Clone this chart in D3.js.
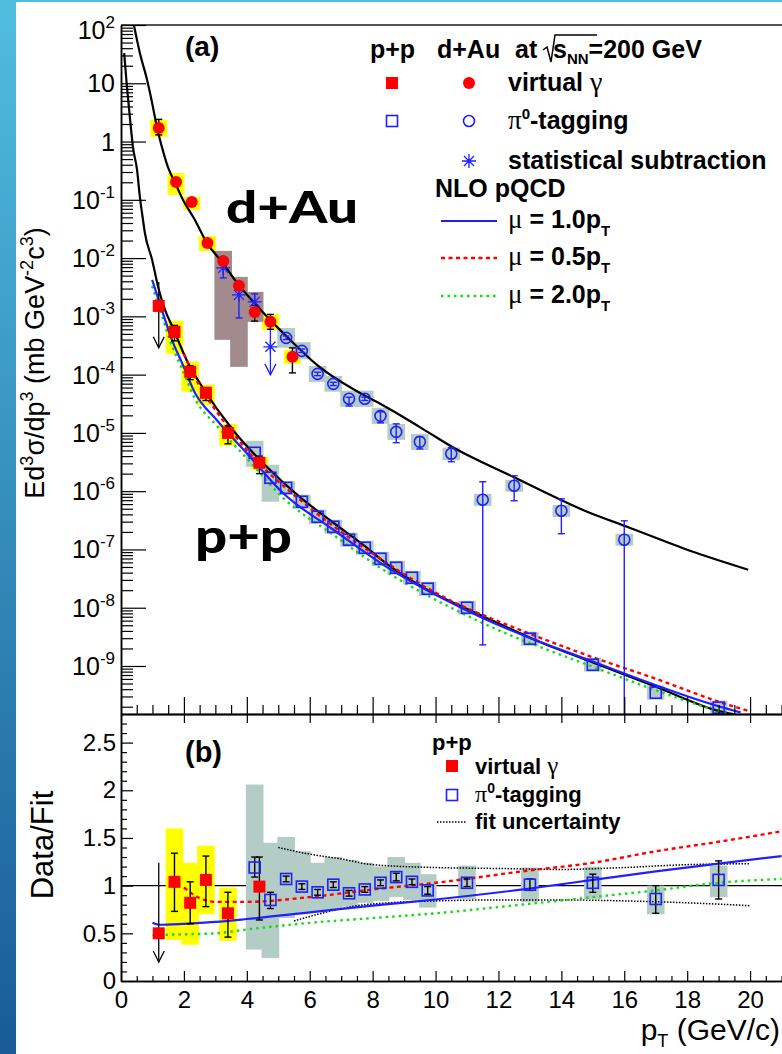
<!DOCTYPE html>
<html>
<head>
<meta charset="utf-8">
<script src="https://cdn.jsdelivr.net/npm/d3@7"></script>
<style>
  html, body { margin: 0; padding: 0; background: #fff; }
  svg { display: block; font-family: "Liberation Sans", Arial, sans-serif; }
</style>
</head>
<body>
<div id="chart"></div>
<script>
'use strict';

// ---------- d+Au, virtual photon (red circles) ----------
const dauVgPt    = [1.2, 1.75, 2.25, 2.75, 3.25, 3.75, 4.25, 4.75, 5.45];
const dauVgVal   = [1.71, 0.203, 0.092, 0.0182, 0.00895, 0.00334, 0.00119, 0.000805, 0.000202];
const dauVgErrLo = [1.3, 0.18, 0.083, 0.0165, 0.0081, 0.0030, 0.00083, 0.0006, 0.000107];
const dauVgErrHi = [2.4, 0.23, 0.10, 0.020, 0.0099, 0.0037, 0.00155, 0.00108, 0.000288];
const dauVgSysLo = [1.2, 0.121, 0.067, 0.0133, 0.0065, 0.00243, 0.00087, 0.00059, 0.000153];
const dauVgSysHi = [2.35, 0.289, 0.112, 0.024, 0.0123, 0.00457, 0.00164, 0.0011, 0.000266];

// ---------- d+Au, pi0 tagging (blue open circles) ----------
const dauPiPt    = [5.25, 5.75, 6.25, 6.75, 7.25, 7.75, 8.25, 8.75, 9.5, 10.5, 11.5, 12.5, 14, 16];
const dauPiVal   = [4.28e-4, 2.56e-4, 1.03e-4, 6.95e-5, 3.85e-5, 3.85e-5, 1.96e-5, 1.04e-5, 7.03e-6, 4.38e-6, 7.12e-7, 1.24e-6, 4.61e-7, 1.47e-7];
const dauPiErrLo = [4.0e-4, 2.4e-4, 9.6e-5, 6.5e-5, 2.9e-5, 3.6e-5, 1.49e-5, 6.8e-6, 5.3e-6, 3.2e-6, 2.3e-9, 6.84e-7, 1.86e-7, 1e-12];
const dauPiErrHi = [4.6e-4, 2.75e-4, 1.1e-4, 7.4e-5, 4.1e-5, 4.1e-5, 2.3e-5, 1.43e-5, 8.6e-6, 5.6e-6, 1.45e-6, 1.84e-6, 7.4e-7, 3.1e-7];
const dauPiSysLo = [2.9e-4, 1.83e-4, 7.5e-5, 5.1e-5, 2.8e-5, 2.8e-5, 1.43e-5, 7.6e-6, 5.1e-6, 3.4e-6, 5.6e-7, 9.8e-7, 3.6e-7, 1.16e-7];
const dauPiSysHi = [6.3e-4, 3.6e-4, 1.41e-4, 9.5e-5, 5.3e-5, 5.3e-5, 2.7e-5, 1.42e-5, 9.6e-6, 5.6e-6, 9.0e-7, 1.57e-6, 5.8e-7, 1.86e-7];

// ---------- d+Au, statistical subtraction (blue asterisks) ----------
const dauSsPt      = [3.25, 3.75, 4.25, 4.75];
const dauSsVal     = [0.00679, 0.00234, 0.00177, 0.0003];
const dauSsErrLo   = [0.00457, 0.00094, 0.00129, null];
const dauSsErrHi   = [0.00828, 0.00285, 0.00243, 0.00059];
const dauSsSysLo   = [0.000395, 0.000136, 0.000805, null];
const dauSsSysHi   = [0.0133, 0.00476, 0.00263, null];
const dauSsLimitTo = [null, null, null, 9.9e-5];

// ---------- p+p, virtual photon (red squares) ----------
const ppVgPt      = [1.2, 1.7, 2.2, 2.7, 3.4, 4.4];
const ppVgVal     = [1.51e-3, 5.42e-4, 1.12e-4, 4.88e-5, 1.0e-5, 3.07e-6];
const ppVgErrLo   = [null, 3.8e-4, 8.2e-5, 3.6e-5, 6.5e-6, 2.0e-6];
const ppVgErrHi   = [3.9e-3, 7.0e-4, 1.42e-4, 6.0e-5, 1.31e-5, 4.0e-6];
const ppVgSysLo   = [null, 2.27e-4, 5.1e-5, 3.04e-5, 6.0e-6, 2.33e-6];
const ppVgSysHi   = [null, 8.4e-4, 1.66e-4, 6.7e-5, 1.43e-5, 3.89e-6];
const ppVgLimitTo = [2.9e-4, null, null, null, null, null];
const ppVgRatio        = [0.50, 1.04, 0.82, 1.06, 0.71, 0.99];
const ppVgRatioErrLo   = [null, 0.73, 0.60, 0.78, 0.46, 0.64];
const ppVgRatioErrHi   = [1.24, 1.34, 1.04, 1.31, 0.93, 1.30];
const ppVgRatioSysLo   = [null, 0.43, 0.38, 0.70, 0.42, 0.77];
const ppVgRatioSysHi   = [null, 1.60, 1.24, 1.42, 0.98, 1.19];
const ppVgRatioLimitTo = [0.2, null, null, null, null, null];

// ---------- p+p, pi0 tagging (blue open squares) ----------
const ppPiPt    = [4.25, 4.75, 5.25, 5.75, 6.25, 6.75, 7.25, 7.75, 8.25, 8.75, 9.25, 9.75, 11, 13, 15, 17, 19];
const ppPiVal   = [4.56e-6, 1.70e-6, 1.14e-6, 6.58e-7, 3.64e-7, 2.45e-7, 1.47e-7, 1.07e-7, 6.92e-8, 4.85e-8, 3.27e-8, 2.12e-8, 1.0e-8, 2.94e-9, 1.05e-9, 3.48e-10, 1.93e-10];
const ppPiSysLo = [2.62e-6, 6.6e-7, 8.6e-7, 5.0e-7, 2.76e-7, 1.86e-7, 1.11e-7, 8.1e-8, 5.2e-8, 3.7e-8, 2.5e-8, 1.6e-8, 7.6e-9, 2.23e-9, 8.0e-10, 2.64e-10, 1.46e-10];
const ppPiSysHi = [7.32e-6, 2.84e-6, 1.5e-6, 8.7e-7, 4.8e-7, 3.23e-7, 1.94e-7, 1.41e-7, 9.1e-8, 6.4e-8, 4.3e-8, 2.8e-8, 1.32e-8, 3.88e-9, 1.39e-9, 4.6e-10, 2.55e-10];
const ppPiRatio      = [1.19, 0.85, 1.07, 0.99, 0.93, 1.01, 0.92, 0.96, 1.03, 1.09, 1.04, 0.95, 1.03, 1.01, 1.03, 0.86, 1.06];
const ppPiRatioErrLo = [1.09, 0.76, 1.04, 0.96, 0.90, 0.98, 0.89, 0.93, 1.00, 1.05, 1.01, 0.91, 0.99, 0.95, 0.93, 0.71, 0.86];
const ppPiRatioErrHi = [1.30, 0.93, 1.10, 1.02, 0.96, 1.04, 0.95, 0.99, 1.06, 1.13, 1.07, 0.99, 1.07, 1.07, 1.12, 1.00, 1.26];
const ppPiRatioSysLo = [0.33, 0.24, 0.66, 0.71, 0.72, 0.75, 0.78, 0.82, 0.84, 0.88, 0.85, 0.77, 0.86, 0.83, 0.86, 0.70, 0.88];
const ppPiRatioSysHi = [2.06, 1.45, 1.51, 1.36, 1.24, 1.30, 1.27, 1.24, 1.20, 1.30, 1.24, 1.12, 1.21, 1.19, 1.20, 1.00, 1.21];

// ---------- fits (black) and NLO pQCD curves ----------
const fitDauPt  = [0.41, 0.6, 0.83, 0.99, 1.14, 1.3, 1.49, 1.72, 1.97, 2.35, 2.73, 3.21, 3.62, 4.74, 5.28, 6.23, 7.82, 8.24, 9.54, 10.52, 12.53, 14.82, 16.09, 18.09, 19.94];
const fitDauVal = [100, 33.1, 11.4, 4.59, 1.78, 0.81, 0.366, 0.195, 0.1, 0.0452, 0.0182, 0.0086, 0.00423, 8.7e-4, 4.45e-4, 1.47e-4, 4.16e-5, 3.16e-5, 1.22e-5, 5.78e-6, 1.70e-6, 4.44e-7, 2.45e-7, 9.5e-8, 4.49e-8];
const fitPpPt   = [0.1, 0.19, 0.29, 0.38, 0.51, 0.6, 0.7, 0.76, 0.99, 1.18, 1.4, 1.65, 2.13, 2.58, 3.57, 4.64, 5.69, 6.74, 7.82, 8.24, 9.76, 11.41, 13.07, 15.0, 17.0, 19.05, 19.7];
const fitPpVal  = [33, 8.6, 2.35, 0.81, 0.326, 0.112, 0.045, 0.027, 0.0093, 0.0032, 0.00129, 6.35e-4, 1.59e-4, 6.2e-5, 1.1e-5, 2.6e-6, 7.9e-7, 2.9e-7, 1.07e-7, 6.9e-8, 2.0e-8, 7.6e-9, 2.94e-9, 1.15e-9, 4.4e-10, 1.66e-10, 1.4e-10];

const nloPt      = [0.99, 1.3, 1.62, 1.94, 2.35, 3.05, 4.1, 5.15, 6.74, 8.24, 11.41, 15.0, 19.05, 19.7];
const nlo10Val   = [4.23e-3, 1.29e-3, 3.95e-4, 1.59e-4, 4.88e-5, 1.65e-5, 3.9e-6, 9.3e-7, 2.2e-7, 5.9e-8, 7.0e-9, 1.19e-9, 2.0e-10, 1.6e-10];
const nlo20Val   = [3.33e-3, 1.02e-3, 3.12e-4, 1.26e-4, 3.85e-5, 1.32e-5, 3.19e-6, 7.7e-7, 1.79e-7, 4.85e-8, 5.75e-9, 9.7e-10, 1.64e-10, 1.3e-10];
const nlo05Pt    = [2.0, 2.5, 3.0, 4.0, 6.0, 8.0, 10, 13, 15, 17, 19, 20];
const nlo05Val   = [2.28e-4, 6.4e-5, 2.49e-5, 5.1e-6, 5.2e-7, 8.5e-8, 1.81e-8, 3.58e-9, 1.41e-9, 6.05e-10, 2.44e-10, 1.66e-10];

// NLO / fit in the ratio panel
const rNlo10Pt  = [1.0, 1.2, 2, 3, 4, 6, 8, 10, 13, 15, 17, 19, 21];
const rNlo10Val = [0.61, 0.59, 0.60, 0.62, 0.65, 0.72, 0.79, 0.855, 0.97, 1.06, 1.15, 1.23, 1.31];
const rNlo05Pt  = [2.0, 2.5, 3.0, 4.0, 6.0, 8.0, 10, 13, 15, 17, 19, 21];
const rNlo05Val = [0.98, 0.87, 0.83, 0.83, 0.88, 0.96, 1.03, 1.16, 1.24, 1.36, 1.46, 1.57];
const rNlo20Pt  = [1.0, 2.0, 3.0, 4, 6, 8, 10, 13, 15, 17, 19, 21];
const rNlo20Val = [0.48, 0.49, 0.50, 0.54, 0.61, 0.66, 0.71, 0.81, 0.88, 0.95, 1.03, 1.07];
const fitUncHiPt  = [5.0, 6.0, 7.0, 8.0, 10, 12, 14, 16, 18, 20];
const fitUncHiVal = [1.40, 1.33, 1.28, 1.22, 1.19, 1.18, 1.17, 1.19, 1.22, 1.23];
const fitUncLoPt  = [5.5, 6.5, 7.5, 8.5, 10, 12, 14, 16, 18, 20];
const fitUncLoVal = [0.63, 0.72, 0.79, 0.82, 0.84, 0.85, 0.85, 0.84, 0.82, 0.79];

// axis ticks
const xMajor = d3.range(0, 23, 2);
const xLabelMax = 20;
const xMinor = d3.range(0, 22.01, 0.5).filter(v => v % 2 !== 0);
const yDecades = d3.range(-9, 3);
const rMajor = [0, 0.5, 1, 1.5, 2, 2.5];
const rMinor = d3.range(0, 28).map(i => i / 10).filter(v => Math.abs(v * 2 - Math.round(v * 2)) > 1e-6);

// ---------- page ----------
const W = 782, H = 1054;
const svg = d3.select("#chart").append("svg").attr("width", W).attr("height", H);
const defs = svg.append("defs");
const grad = defs.append("linearGradient").attr("id", "side")
  .attr("x1", 0).attr("y1", 0).attr("x2", 0).attr("y2", 1);
grad.append("stop").attr("offset", "0%").attr("stop-color", "#50bddf");
grad.append("stop").attr("offset", "100%").attr("stop-color", "#185b96");
svg.append("rect").attr("width", W).attr("height", H).attr("fill", "#fff");
svg.append("rect").attr("width", W).attr("height", 2).attr("fill", "#50bddf");
svg.append("rect").attr("width", 16).attr("height", H).attr("fill", "url(#side)");

const x = d3.scaleLinear().domain([0, 22]).range([121, 813]);
const yTop = d3.scaleLog().domain([1.5e-10, 100]).range([714, 25]);
const yBot = d3.scaleLinear().domain([0, 2.8]).range([981, 714]);

defs.append("clipPath").attr("id", "clipTop").append("rect")
  .attr("x", 121).attr("y", 25).attr("width", W - 121).attr("height", 689);
defs.append("clipPath").attr("id", "clipBot").append("rect")
  .attr("x", 121).attr("y", 714).attr("width", W - 121).attr("height", 267);

const RED = "#ff0000", BLUE = "#2020ff", YEL = "#ffff00", GREY = "#b3ccc5", BROWN = "#a38b8d";

// ---------- helpers ----------
function idx(n, ...arrs) {
  return d3.range(n).filter(i => arrs.every(a => a[i] != null));
}
function boxes(g, xs, lo, hi, yS, hw, fill) {
  g.append("g").selectAll("rect").data(idx(xs.length, lo, hi)).join("rect")
    .attr("x", i => x(xs[i] - hw))
    .attr("width", i => x(xs[i] + hw) - x(xs[i] - hw))
    .attr("y", i => yS(hi[i]))
    .attr("height", i => yS(lo[i]) - yS(hi[i]))
    .attr("fill", fill);
}
function errBars(g, xs, lo, hi, yS, color) {
  const e = g.append("g").attr("stroke", color).attr("stroke-width", 1.4);
  idx(xs.length, lo, hi).forEach(i => {
    const cx = x(xs[i]), y1 = yS(hi[i]), y2 = yS(lo[i]);
    e.append("line").attr("x1", cx).attr("x2", cx).attr("y1", y1).attr("y2", y2);
    e.append("line").attr("x1", cx - 3.5).attr("x2", cx + 3.5).attr("y1", y1).attr("y2", y1);
    e.append("line").attr("x1", cx - 3.5).attr("x2", cx + 3.5).attr("y1", y2).attr("y2", y2);
  });
}
function arrows(g, xs, from, to, yS, color) {
  const a = g.append("g").attr("stroke", color).attr("stroke-width", 1.3).attr("fill", "none");
  idx(xs.length, from, to).forEach(i => {
    const cx = x(xs[i]), y1 = yS(from[i]), y2 = yS(to[i]);
    a.append("line").attr("x1", cx).attr("x2", cx).attr("y1", y1).attr("y2", y2);
    a.append("path").attr("d", `M${cx - 5.5},${y2 - 11}L${cx},${y2}L${cx + 5.5},${y2 - 11}`);
  });
}
function marker(g, shape, cx, cy) {
  if (shape === "disc") g.append("circle").attr("cx", cx).attr("cy", cy).attr("r", 6).attr("fill", RED);
  else if (shape === "fsq") g.append("rect").attr("x", cx - 6).attr("y", cy - 6).attr("width", 12).attr("height", 12).attr("fill", RED);
  else if (shape === "osq") g.append("rect").attr("x", cx - 5.5).attr("y", cy - 5.5).attr("width", 11).attr("height", 11)
    .attr("fill", "none").attr("stroke", BLUE).attr("stroke-width", 1.6);
  else if (shape === "ocirc") g.append("circle").attr("cx", cx).attr("cy", cy).attr("r", 5.5)
    .attr("fill", "none").attr("stroke", BLUE).attr("stroke-width", 1.6);
  else if (shape === "star") {
    const r = 7, d = 5;
    g.append("path").attr("d", `M${cx - r},${cy}H${cx + r}M${cx},${cy - r}V${cy + r}M${cx - d},${cy - d}L${cx + d},${cy + d}M${cx - d},${cy + d}L${cx + d},${cy - d}`)
      .attr("stroke", BLUE).attr("stroke-width", 1.3);
  }
}
function markers(g, xs, vs, yS, shape) {
  const m = g.append("g");
  xs.forEach((p, i) => marker(m, shape, x(p), yS(vs[i])));
}
function curve(g, xs, vs, yS, color, width, dash) {
  const line = d3.line().x(d => x(d[0])).y(d => yS(d[1])).curve(d3.curveMonotoneX);
  g.append("path").datum(d3.zip(xs, vs)).attr("d", line)
    .attr("fill", "none").attr("stroke", color).attr("stroke-width", width)
    .attr("stroke-dasharray", dash || null);
}

// ---------- top panel ----------
const panelTop = svg.append("g").attr("clip-path", "url(#clipTop)");
boxes(panelTop, dauVgPt, dauVgSysLo, dauVgSysHi, yTop, 0.27, YEL);
boxes(panelTop, ppVgPt, ppVgSysLo, ppVgSysHi, yTop, 0.28, YEL);
boxes(panelTop, dauSsPt, dauSsSysLo, dauSsSysHi, yTop, 0.28, BROWN);
boxes(panelTop, dauPiPt, dauPiSysLo, dauPiSysHi, yTop, 0.28, GREY);
boxes(panelTop, ppPiPt, ppPiSysLo, ppPiSysHi, yTop, 0.28, GREY);

curve(panelTop, fitDauPt, fitDauVal, yTop, "#000", 2.2);
curve(panelTop, fitPpPt, fitPpVal, yTop, "#000", 2.2);
curve(panelTop, nloPt, nlo20Val, yTop, "#11dd11", 2.4, "2.5,4");
curve(panelTop, nlo05Pt, nlo05Val, yTop, RED, 2.4, "4,3.5");
curve(panelTop, nloPt, nlo10Val, yTop, BLUE, 2.2);

errBars(panelTop, dauVgPt, dauVgErrLo, dauVgErrHi, yTop, "#000");
errBars(panelTop, ppVgPt, ppVgErrLo, ppVgErrHi, yTop, "#000");
errBars(panelTop, dauPiPt, dauPiErrLo, dauPiErrHi, yTop, BLUE);
errBars(panelTop, dauSsPt, dauSsErrLo, dauSsErrHi, yTop, BLUE);
arrows(panelTop, dauSsPt, dauSsErrHi, dauSsLimitTo, yTop, BLUE);
arrows(panelTop, ppVgPt, ppVgErrHi, ppVgLimitTo, yTop, "#000");

markers(panelTop, ppPiPt, ppPiVal, yTop, "osq");
markers(panelTop, dauPiPt, dauPiVal, yTop, "ocirc");
markers(panelTop, dauSsPt, dauSsVal, yTop, "star");
markers(panelTop, ppVgPt, ppVgVal, yTop, "fsq");
markers(panelTop, dauVgPt, dauVgVal, yTop, "disc");

// ---------- ratio panel ----------
const panelBot = svg.append("g").attr("clip-path", "url(#clipBot)");
panelBot.append("line").attr("x1", x(0)).attr("x2", W).attr("y1", yBot(1)).attr("y2", yBot(1))
  .attr("stroke", "#000").attr("stroke-width", 1.2);
boxes(panelBot, ppVgPt, ppVgRatioSysLo, ppVgRatioSysHi, yBot, 0.28, YEL);
boxes(panelBot, ppPiPt, ppPiRatioSysLo, ppPiRatioSysHi, yBot, 0.28, GREY);
curve(panelBot, fitUncHiPt, fitUncHiVal, yBot, "#000", 1.5, "1.5,1.5");
curve(panelBot, fitUncLoPt, fitUncLoVal, yBot, "#000", 1.5, "1.5,1.5");
curve(panelBot, rNlo20Pt, rNlo20Val, yBot, "#11dd11", 2.4, "2.5,4");
curve(panelBot, rNlo05Pt, rNlo05Val, yBot, RED, 2.4, "4,3.5");
curve(panelBot, rNlo10Pt, rNlo10Val, yBot, BLUE, 2.2);
errBars(panelBot, ppVgPt, ppVgRatioErrLo, ppVgRatioErrHi, yBot, "#000");
errBars(panelBot, ppPiPt, ppPiRatioErrLo, ppPiRatioErrHi, yBot, "#000");
arrows(panelBot, ppVgPt, ppVgRatioErrHi, ppVgRatioLimitTo, yBot, "#000");
markers(panelBot, ppPiPt, ppPiRatio, yBot, "osq");
markers(panelBot, ppVgPt, ppVgRatio, yBot, "fsq");

// ---------- axes ----------
function styleAxis(g, w) {
  g.select(".domain").attr("stroke", "#000").attr("stroke-width", w || 1.5);
  g.selectAll(".tick line").attr("stroke", "#000").attr("stroke-width", 1.2);
  g.selectAll(".tick text").attr("font-size", 24).attr("fill", "#000")
    .attr("font-family", '"Liberation Sans", Arial, sans-serif');
}
// top frame
svg.append("line").attr("x1", 121).attr("x2", W).attr("y1", 25).attr("y2", 25)
  .attr("stroke", "#555").attr("stroke-width", 2);

// top panel left (log)
const yMinor = [];
d3.range(-10, 2).forEach(e => d3.range(2, 10).forEach(m => {
  const v = m * Math.pow(10, e);
  if (v > 1.5e-10 && v < 100) yMinor.push(v);
}));
const gTl = svg.append("g").attr("transform", "translate(121,0)")
  .call(d3.axisLeft(yTop).tickValues(yDecades.map(e => Math.pow(10, e))).tickSizeInner(-25).tickSizeOuter(0).tickFormat(""));
styleAxis(gTl);
const gTl2 = svg.append("g").attr("transform", "translate(121,0)")
  .call(d3.axisLeft(yTop).tickValues(yMinor).tickSizeInner(-12).tickSizeOuter(0).tickFormat(""));
styleAxis(gTl2);
const yLab = svg.append("g").attr("font-size", 25).attr("text-anchor", "end");
yDecades.forEach(e => {
  const t = yLab.append("text").attr("x", 115).attr("y", yTop(Math.pow(10, e)) + 9 + (e === 2 ? 5 : 0));
  if (e === 0) t.text("1");
  else if (e === 1) t.text("10");
  else {
    t.append("tspan").text("10");
    t.append("tspan").attr("font-size", 17).attr("dy", -11).text(String(e));
  }
});

// top panel bottom (shared edge)
const gTb = svg.append("g").attr("transform", "translate(0,714)")
  .call(d3.axisBottom(x).tickValues(xMajor).tickSizeInner(-17).tickSizeOuter(0).tickFormat(""));
styleAxis(gTb);
const gTb2 = svg.append("g").attr("transform", "translate(0,714)")
  .call(d3.axisBottom(x).tickValues(xMinor).tickSizeInner(-9).tickSizeOuter(0).tickFormat(""));
styleAxis(gTb2);
const gBt = svg.append("g").attr("transform", "translate(0,714)")
  .call(d3.axisTop(x).tickValues(xMajor).tickSizeInner(-9).tickSizeOuter(0).tickFormat(""));
styleAxis(gBt);

// ratio panel axes
const gBl = svg.append("g").attr("transform", "translate(121,0)")
  .call(d3.axisLeft(yBot).tickValues(rMajor).tickSizeInner(-12).tickSizeOuter(0).tickPadding(5).tickFormat(d3.format("")));
styleAxis(gBl);
const gBl2 = svg.append("g").attr("transform", "translate(121,0)")
  .call(d3.axisLeft(yBot).tickValues(rMinor).tickSizeInner(-6).tickSizeOuter(0).tickFormat(""));
styleAxis(gBl2);
const gBb = svg.append("g").attr("transform", "translate(0,981)")
  .call(d3.axisBottom(x).tickValues(xMajor).tickSizeInner(-10).tickSizeOuter(0).tickPadding(10)
    .tickFormat(d => d > xLabelMax ? "" : String(d)));
styleAxis(gBb);
const gBb2 = svg.append("g").attr("transform", "translate(0,981)")
  .call(d3.axisBottom(x).tickValues(xMinor).tickSizeInner(-5).tickSizeOuter(0).tickFormat(""));
styleAxis(gBb2);

// ---------- axis titles ----------
const yt = svg.append("text").attr("transform", "translate(44,363) rotate(-90)")
  .attr("text-anchor", "middle").attr("font-size", 27);
[["Ed", 0], ["3", 1], ["σ/dp", 0], ["3", 1], [" (mb GeV", 0], ["-2", 1], ["c", 0], ["3", 1], [")", 0]]
  .forEach(([s, sup], k, arr) => {
    const prevSup = k > 0 && arr[k - 1][1];
    const ts = yt.append("tspan").text(s);
    if (sup) ts.attr("font-size", 18).attr("dy", -11);
    else if (prevSup) ts.attr("dy", 11);
  });
svg.append("text").attr("transform", "translate(53,845) rotate(-90)")
  .attr("text-anchor", "middle").attr("font-size", 31).text("Data/Fit");
const xt = svg.append("text").attr("x", 780).attr("y", 1040).attr("text-anchor", "end").attr("font-size", 30);
xt.append("tspan").text("p");
xt.append("tspan").attr("font-size", 18).attr("dy", 7).text("T");
xt.append("tspan").attr("dy", -7).text(" (GeV/c)");

// ---------- panel labels ----------
svg.append("text").attr("x", 185).attr("y", 56).attr("font-size", 28).attr("font-weight", "bold").text("(a)");
svg.append("text").attr("x", 185).attr("y", 762).attr("font-size", 29).attr("font-weight", "bold").text("(b)");
svg.append("text").attr("x", 226).attr("y", 223).attr("font-family", "Lato, 'Open Sans', sans-serif")
  .attr("font-weight", 900).attr("font-size", 43).attr("textLength", 132).attr("lengthAdjust", "spacingAndGlyphs").text("d+Au");
svg.append("text").attr("x", 195).attr("y", 553).attr("font-family", "Lato, 'Open Sans', sans-serif")
  .attr("font-weight", 900).attr("font-size", 48).attr("textLength", 97).attr("lengthAdjust", "spacingAndGlyphs").text("p+p");

// ---------- top legend ----------
const lg = svg.append("g").attr("font-size", 25).attr("font-weight", "bold");
lg.append("text").attr("x", 370).attr("y", 58).text("p+p");
lg.append("text").attr("x", 437).attr("y", 58).text("d+Au");
lg.append("text").attr("x", 515).attr("y", 58).text("at");
lg.append("path").attr("d", "M543,50L547,47L551,62L555,35H597").attr("fill", "none").attr("stroke", "#000").attr("stroke-width", 1.5);
const sq = lg.append("text").attr("x", 553).attr("y", 58);
sq.append("tspan").text("s");
sq.append("tspan").attr("font-size", 15).attr("dy", 6).text("NN");
sq.append("tspan").attr("dy", -6).text("=200 GeV");

marker(lg, "fsq", 392, 83);
marker(lg, "disc", 469, 83);
const l1 = lg.append("text").attr("x", 508).attr("y", 91);
l1.append("tspan").text("virtual ");
l1.append("tspan").attr("font-family", "'Liberation Serif', serif").attr("font-weight", "normal").attr("font-size", 28).text("γ");
marker(lg, "osq", 392, 121);
marker(lg, "ocirc", 469, 121);
const l2 = lg.append("text").attr("x", 508).attr("y", 129);
l2.append("tspan").attr("font-family", "'Liberation Serif', serif").attr("font-weight", "normal").attr("font-size", 27).text("π");
l2.append("tspan").attr("font-size", 15).attr("dy", -10).text("0");
l2.append("tspan").attr("dy", 10).text("-tagging");
marker(lg, "star", 469, 161);
lg.append("text").attr("x", 508).attr("y", 169).text("statistical subtraction");
lg.append("text").attr("x", 435).attr("y", 197).text("NLO pQCD");
const nloLeg = [["1.0", BLUE, null, 221, 2.2], ["0.5", RED, "4,3.5", 258, 2.4], ["2.0", "#11dd11", "2.5,4", 296, 2.4]];
nloLeg.forEach(([mu, col, dash, yy, w]) => {
  lg.append("line").attr("x1", 441).attr("x2", 497).attr("y1", yy).attr("y2", yy)
    .attr("stroke", col).attr("stroke-width", w).attr("stroke-dasharray", dash);
  const t = lg.append("text").attr("x", 508).attr("y", yy + 7);
  t.append("tspan").attr("font-family", "'Liberation Serif', serif").attr("font-weight", "normal").attr("font-size", 27).text("μ");
  t.append("tspan").text(" = " + mu + "p");
  t.append("tspan").attr("font-size", 15).attr("dy", 8).text("T");
});

// ---------- ratio legend ----------
const lb = svg.append("g").attr("font-size", 22).attr("font-weight", "bold");
lb.append("text").attr("x", 432).attr("y", 750).text("p+p");
marker(lb, "fsq", 452, 766);
const b1 = lb.append("text").attr("x", 475).attr("y", 774);
b1.append("tspan").text("virtual ");
b1.append("tspan").attr("font-family", "'Liberation Serif', serif").attr("font-weight", "normal").attr("font-size", 25).text("γ");
marker(lb, "osq", 452, 795);
const b2 = lb.append("text").attr("x", 475).attr("y", 802);
b2.append("tspan").attr("font-family", "'Liberation Serif', serif").attr("font-weight", "normal").attr("font-size", 24).text("π");
b2.append("tspan").attr("font-size", 14).attr("dy", -9).text("0");
b2.append("tspan").attr("dy", 9).text("-tagging");
lb.append("line").attr("x1", 437).attr("x2", 466).attr("y1", 822).attr("y2", 822)
  .attr("stroke", "#000").attr("stroke-width", 1.5).attr("stroke-dasharray", "1.5,1.5");
lb.append("text").attr("x", 475).attr("y", 829).text("fit uncertainty");
</script>
</body>
</html>
